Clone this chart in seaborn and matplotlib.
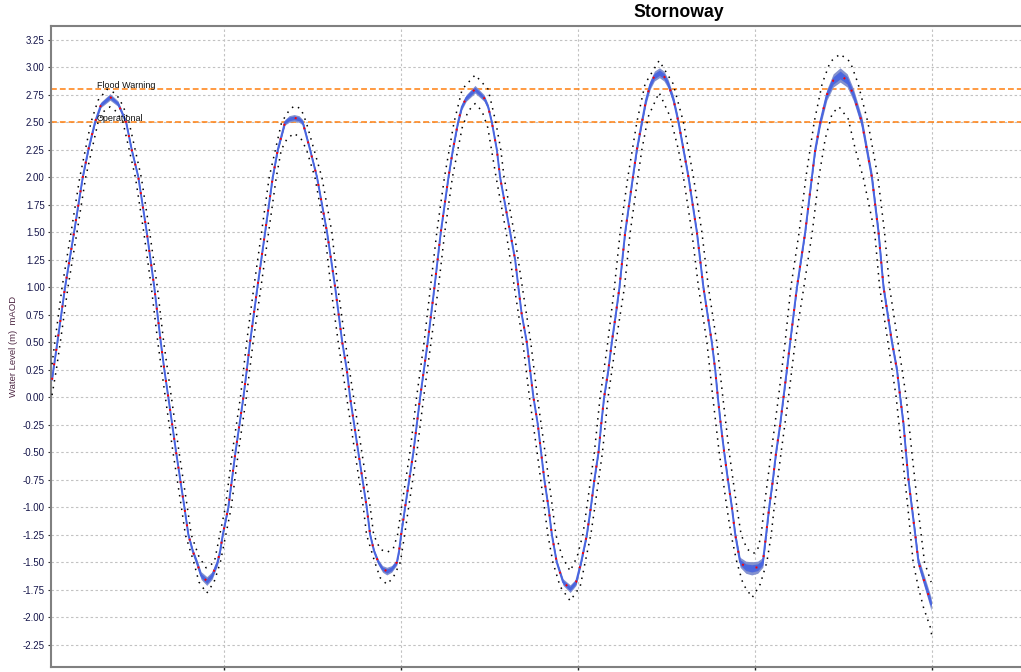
import matplotlib
matplotlib.use("Agg")
import matplotlib.pyplot as plt
import matplotlib.transforms as mtransforms
import numpy as np
import seaborn as sns

# ---------------- data (hours from start, water level in m mAOD) ----------------
title = "Stornoway"
y_label = "Water Level (m)  mAOD"
threshold_names = ["Flood Warning", "Operational"]
threshold_levels = [2.80, 2.50]
y_ticks = [-2.25, -2.00, -1.75, -1.50, -1.25, -1.00, -0.75, -0.50, -0.25, 0.00,
           0.25, 0.50, 0.75, 1.00, 1.25, 1.50, 1.75, 2.00, 2.25, 2.50, 2.75, 3.00, 3.25]
x_ticks_h = [12, 24, 36, 48, 60]

# central (median) forecast
time_h = [
    0.32, 0.41, 0.68, 1.20, 1.81, 2.40, 2.78, 3.23, 3.64, 4.25, 4.79, 5.34, 5.72,
    6.17, 6.74, 7.25, 7.69, 7.93, 8.20, 8.73, 9.29, 9.56, 9.86, 10.13, 10.42, 10.81, 11.17, 11.53, 11.71,
    11.89, 12.27, 12.75, 13.29, 13.52, 13.74, 14.24, 14.76, 15.28, 15.62, 16.11, 16.39, 16.73, 17.06, 17.31,
    17.81, 18.28, 18.96, 19.51, 19.99, 20.30, 20.52, 21.08, 21.65, 21.88, 22.15, 22.44, 22.72, 23.01, 23.34, 23.69, 23.84,
    23.98, 24.25, 24.81, 25.27, 25.78, 26.24, 26.67, 27.19, 27.49, 27.84, 28.10, 28.39, 28.99, 29.61, 29.88, 30.13,
    30.47, 30.69, 31.03, 31.37, 31.71, 31.93, 32.16, 32.50, 32.72, 32.95, 33.25, 33.47, 33.69, 33.97, 34.20, 34.53, 34.96, 35.44, 35.84, 36.18,
    36.57, 36.84, 37.08, 37.36, 37.54, 37.74, 38.03, 38.26, 38.53, 38.78, 39.17, 39.69, 39.96, 40.30, 40.58, 40.86, 41.15, 41.49, 41.80, 42.08, 42.45, 42.78,
    43.12, 43.46, 44.03, 44.47, 45.04, 45.27, 45.45, 45.65, 45.88, 46.13, 46.40, 46.63, 46.96, 47.35, 47.75, 48.15, 48.50,
    48.72, 48.93, 49.18, 49.40, 49.67, 49.90, 50.13, 50.35, 50.81, 51.37, 51.82, 52.05, 52.39, 52.84, 53.27, 53.74, 54.22, 54.64,
    55.21, 55.55, 55.89, 56.34, 56.68, 57.25, 57.59, 57.81, 58.04, 58.20, 58.37, 58.60, 58.83, 59.05, 59.62, 59.91,
]
level_m = [
    0.16, 0.25, 0.50, 1.00, 1.50, 2.00, 2.25, 2.50, 2.66, 2.73, 2.67, 2.50, 2.25,
    2.00, 1.50, 1.00, 0.50, 0.25, 0.00, -0.50, -1.00, -1.25, -1.40, -1.50, -1.62, -1.67, -1.62, -1.50, -1.40,
    -1.25, -1.00, -0.50, 0.00, 0.25, 0.50, 1.00, 1.50, 2.00, 2.25, 2.50, 2.53, 2.54, 2.53, 2.50,
    2.25, 2.00, 1.50, 1.00, 0.50, 0.25, 0.00, -0.50, -1.00, -1.25, -1.40, -1.50, -1.56, -1.58, -1.56, -1.50, -1.40,
    -1.25, -1.00, -0.50, 0.00, 0.50, 1.00, 1.50, 2.00, 2.25, 2.50, 2.64, 2.72, 2.80, 2.72, 2.64, 2.50,
    2.25, 2.00, 1.75, 1.50, 1.25, 1.00, 0.75, 0.50, 0.25, 0.00, -0.25, -0.50, -0.75, -1.00, -1.25, -1.50, -1.68, -1.74, -1.68, -1.50,
    -1.25, -1.00, -0.75, -0.50, -0.25, 0.00, 0.25, 0.50, 0.75, 1.00, 1.50, 2.00, 2.25, 2.50, 2.70, 2.84, 2.92, 2.95, 2.92, 2.85, 2.70, 2.50,
    2.25, 2.00, 1.50, 1.00, 0.50, 0.25, 0.00, -0.25, -0.50, -0.75, -1.00, -1.25, -1.50, -1.545, -1.555, -1.545, -1.50,
    -1.25, -1.00, -0.75, -0.50, -0.25, 0.00, 0.25, 0.50, 1.00, 1.50, 2.00, 2.25, 2.50, 2.75, 2.88, 2.93, 2.88, 2.75,
    2.50, 2.25, 2.00, 1.50, 1.00, 0.50, 0.25, 0.00, -0.25, -0.50, -0.75, -1.00, -1.25, -1.50, -1.75, -1.88,
]
# half-width of the ensemble (blue) spread around the median
spread_m = [
    0.015, 0.015, 0.015, 0.015, 0.015, 0.015, 0.018, 0.020, 0.025, 0.030, 0.025, 0.020, 0.018,
    0.015, 0.015, 0.015, 0.015, 0.015, 0.015, 0.015, 0.020, 0.020, 0.025, 0.030, 0.035, 0.040, 0.035, 0.030, 0.025,
    0.020, 0.015, 0.015, 0.015, 0.015, 0.015, 0.015, 0.015, 0.015, 0.020, 0.025, 0.030, 0.030, 0.030, 0.025,
    0.020, 0.015, 0.015, 0.015, 0.015, 0.015, 0.015, 0.015, 0.015, 0.020, 0.022, 0.025, 0.030, 0.035, 0.030, 0.025, 0.022,
    0.020, 0.015, 0.015, 0.015, 0.015, 0.015, 0.015, 0.015, 0.018, 0.020, 0.025, 0.030, 0.035, 0.030, 0.025, 0.020,
    0.015, 0.015, 0.015, 0.015, 0.015, 0.015, 0.015, 0.015, 0.015, 0.015, 0.015, 0.015, 0.015, 0.015, 0.020, 0.025, 0.030, 0.035, 0.030, 0.025,
    0.020, 0.020, 0.020, 0.020, 0.020, 0.020, 0.020, 0.020, 0.020, 0.020, 0.020, 0.020, 0.025, 0.030, 0.035, 0.040, 0.045, 0.045, 0.045, 0.040, 0.038, 0.035,
    0.030, 0.030, 0.025, 0.025, 0.025, 0.025, 0.025, 0.025, 0.025, 0.030, 0.030, 0.035, 0.045, 0.055, 0.060, 0.055, 0.045,
    0.035, 0.030, 0.030, 0.025, 0.025, 0.025, 0.025, 0.025, 0.025, 0.025, 0.030, 0.035, 0.040, 0.050, 0.060, 0.065, 0.060, 0.055,
    0.050, 0.050, 0.050, 0.045, 0.040, 0.035, 0.035, 0.035, 0.035, 0.035, 0.035, 0.040, 0.040, 0.045, 0.055, 0.060,
]

# upper envelope (black dotted)
upper_t = [
    0.32, 0.51, 1.00, 1.61, 2.20, 2.96, 3.44, 4.05, 4.66, 5.13, 5.54, 6.37, 6.94, 7.46, 7.89, 8.41, 8.93, 9.49, 9.76, 10.28, 10.76,
    11.32, 11.69, 12.07, 12.54, 13.09, 13.51, 14.00, 14.52, 15.04, 15.88, 16.45, 16.79, 17.20, 17.55,
    18.61, 19.29, 19.69, 20.20, 20.76, 21.32, 21.89, 22.12, 22.56, 23.01, 23.44, 23.74, 24.01, 24.58, 25.03, 25.54,
    25.97, 26.40, 26.92, 27.57, 28.12, 29.00, 29.88, 30.40, 30.74, 30.96, 31.64, 32.20, 32.77, 33.22, 33.74, 34.24, 34.47,
    34.90, 35.44, 35.91, 36.30, 36.57, 37.08, 37.47, 37.99, 38.44, 38.83, 39.35, 39.96, 40.52, 41.47, 42.42, 43.12,
    43.80, 44.37, 44.81, 45.38, 45.79, 46.22, 46.74, 47.03, 47.44, 47.84, 48.12, 48.39, 48.59, 49.07, 49.56, 50.01,
    50.40, 50.96, 51.42, 51.98, 52.52, 53.07, 53.74, 54.42, 54.96, 55.62, 56.30, 56.75, 57.09, 57.66, 58.22, 58.60,
    59.01, 59.46, 59.91,
]
upper_v = [
    0.30, 0.50, 1.00, 1.50, 2.00, 2.50, 2.70, 2.80, 2.76, 2.65, 2.50, 2.00, 1.50, 1.00, 0.50, 0.00, -0.50, -1.00, -1.25, -1.45, -1.55,
    -1.50, -1.25, -1.00, -0.50, 0.00, 0.50, 1.00, 1.50, 2.00, 2.50, 2.62, 2.65, 2.62, 2.50,
    2.00, 1.50, 1.00, 0.50, 0.00, -0.50, -1.00, -1.25, -1.38, -1.41, -1.38, -1.25, -1.00, -0.50, 0.00, 0.50,
    1.00, 1.50, 2.00, 2.50, 2.80, 2.93, 2.80, 2.50, 2.25, 2.00, 1.50, 1.00, 0.50, 0.00, -0.50, -1.00, -1.25,
    -1.45, -1.58, -1.45, -1.25, -1.00, -0.50, 0.00, 0.50, 1.00, 1.50, 2.00, 2.50, 2.85, 3.06, 2.85, 2.50,
    2.00, 1.50, 1.00, 0.50, 0.00, -0.50, -1.00, -1.25, -1.38, -1.42, -1.40, -1.25, -1.00, -0.50, 0.00, 0.50,
    1.00, 1.50, 2.00, 2.50, 2.85, 3.05, 3.12, 3.05, 2.85, 2.50, 2.00, 1.50, 1.00, 0.50, 0.00, -0.50,
    -1.00, -1.50, -1.68,
]

# lower envelope (black dotted)
lower_t = [
    0.32, 0.61, 0.88, 1.40, 2.01, 2.60, 3.44, 3.84, 4.25, 4.66, 5.13, 5.97, 6.54, 7.05, 7.49, 8.00, 8.52, 9.09, 9.36, 9.93,
    10.28, 10.81, 11.30, 11.73, 12.10, 12.47, 12.95, 13.49, 13.95, 14.48, 15.00, 15.52, 15.86, 16.25, 16.73, 17.20, 17.57,
    18.14, 18.81, 19.22, 19.72, 20.29, 20.85, 21.42, 21.64, 22.20, 22.56, 23.01, 23.44, 23.93, 24.22, 24.49, 25.05, 25.51,
    26.01, 26.51, 26.94, 27.46, 28.12, 28.52, 29.00, 29.47, 29.86, 30.42, 31.10, 31.66, 32.23, 32.68, 33.20, 33.69, 33.93,
    34.27, 34.76, 35.44, 36.12, 36.46, 36.84, 37.11, 37.63, 38.01, 38.54, 39.12, 39.51, 40.03, 40.30, 40.73, 41.47, 42.22,
    42.78, 43.12, 43.69, 44.14, 44.71, 45.11, 45.54, 46.06, 46.35, 46.74, 47.17, 47.78, 48.32, 48.77, 49.07, 49.27, 49.74,
    50.24, 50.69, 51.28, 51.85, 52.30, 52.73, 53.20, 53.67, 54.29, 54.76, 55.30, 55.71, 56.08, 56.42, 56.98, 57.54, 57.93,
    58.33, 58.69, 59.03, 59.39, 59.85, 59.96,
]
lower_v = [
    0.02, 0.25, 0.50, 1.00, 1.50, 2.00, 2.50, 2.60, 2.64, 2.60, 2.50, 2.00, 1.50, 1.00, 0.50, 0.00, -0.50, -1.00, -1.25, -1.50,
    -1.68, -1.78, -1.68, -1.50, -1.25, -1.00, -0.50, 0.00, 0.50, 1.00, 1.50, 2.00, 2.25, 2.35, 2.40, 2.35, 2.25,
    2.00, 1.50, 1.00, 0.50, 0.00, -0.50, -1.00, -1.25, -1.50, -1.64, -1.70, -1.64, -1.50, -1.25, -1.00, -0.50, 0.00,
    0.50, 1.00, 1.50, 2.00, 2.45, 2.60, 2.67, 2.60, 2.45, 2.00, 1.50, 1.00, 0.50, 0.00, -0.50, -1.00, -1.25,
    -1.50, -1.72, -1.85, -1.72, -1.50, -1.25, -1.00, -0.50, 0.00, 0.50, 1.00, 1.50, 2.00, 2.25, 2.55, 2.77, 2.55,
    2.25, 2.00, 1.50, 1.00, 0.50, 0.00, -0.50, -1.00, -1.25, -1.50, -1.70, -1.82, -1.70, -1.50, -1.25, -1.00, -0.50,
    0.00, 0.50, 1.00, 1.50, 2.00, 2.35, 2.58, 2.64, 2.53, 2.26, 2.00, 1.74, 1.50, 1.00, 0.50, 0.00, -0.50,
    -1.00, -1.50, -1.72, -1.91, -2.09, -2.17,
]

# ---------------- styling ----------------
sns.set_theme(style="white")
plt.rcParams['font.family'] = ['Liberation Sans', 'DejaVu Sans']
plt.rcParams['axes.unicode_minus'] = False

W, H = 1021, 672
fig = plt.figure(figsize=(W / 100, H / 100), dpi=100)
ax_left, ax_right, ax_top, ax_bottom = 51.3, 1021.0, 26.0, 666.7
ax = fig.add_axes([ax_left / W, 1 - ax_bottom / H, (ax_right - ax_left) / W, (ax_bottom - ax_top) / H])

ax.set_xlim(0.27, 66.0)
ax.set_ylim(-2.449, 3.375)

# grid
ax.set_yticks(y_ticks)
ax.set_yticklabels([f"{v:.2f}" for v in y_ticks])
ax.set_xticks(x_ticks_h)
ax.set_xticklabels([])
ax.grid(True, color='#c2c2c2', linestyle=(0, (2.2, 2.2)), linewidth=0.8)
ax.set_axisbelow(True)

# threshold lines
trans = mtransforms.blended_transform_factory(ax.transAxes, ax.transData)
for name, lvl in zip(threshold_names, threshold_levels):
    ax.axhline(lvl, color='#ff7f0e', linestyle=(0, (3.8, 2.0)), linewidth=1.1, zorder=1.5)
    ax.text(0.0468, lvl + 0.012, name, transform=trans, ha='left', va='baseline',
            fontsize=6.5, color='#111111', zorder=6)

# envelopes
sns.lineplot(x=upper_t, y=upper_v, ax=ax, color='black', linewidth=1.1,
             linestyle=(0, (1, 3.5)), estimator=None, sort=False, zorder=3)
sns.lineplot(x=lower_t, y=lower_v, ax=ax, color='black', linewidth=1.1,
             linestyle=(0, (1, 3.5)), estimator=None, sort=False, zorder=3)

# ensemble spread band
lv = np.array(level_m)
sp = np.array(spread_m)
ax.fill_between(time_h, lv - sp, lv + sp, color='#8391cf', linewidth=0, zorder=3.5)
ax.fill_between(time_h, lv - 0.55 * sp, lv + 0.55 * sp, color='#4d68dc', linewidth=0, zorder=3.6)
sns.lineplot(x=time_h, y=level_m, ax=ax, color='#4a66e0', linewidth=1.4,
             estimator=None, sort=False, zorder=4)
# median (red dotted)
sns.lineplot(x=time_h, y=level_m, ax=ax, color='#ff0000', linewidth=1.4,
             linestyle=(0, (1, 6.5)), estimator=None, sort=False, zorder=5)

# axes decoration
for side in ['left', 'top', 'bottom']:
    ax.spines[side].set_visible(True)
    ax.spines[side].set_color('#808080')
    ax.spines[side].set_linewidth(1.5)
ax.spines['right'].set_visible(False)

ax.tick_params(axis='y', direction='out', length=2.5, width=0.8, color='#333333',
               pad=2.2, labelsize=7, labelcolor='#15154a', left=True)
ax.tick_params(axis='x', direction='out', length=2.5, width=1.0, color='#222222',
               bottom=True, labelbottom=False)

ax.set_xlabel('')
ax.set_ylabel(y_label, fontsize=6.8, color='#4e2844')
ax.yaxis.set_label_coords((17.5 - ax_left) / (ax_right - ax_left), 0.5)

fig.text(679 / W, 1 - 16.7 / H, title, ha='center', va='baseline',
         fontsize=12.7, fontweight='bold', color='black')

fig.savefig('out.png', dpi=100)
